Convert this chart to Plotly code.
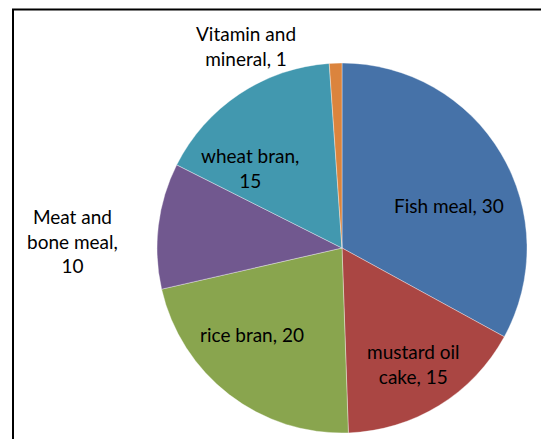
import plotly.graph_objects as go

W, H = 549, 439
OFF = 8  # page body margin offset in the browser

categories = ["Fish meal", "mustard oil cake", "rice bran", "Meat and bone meal", "wheat bran", "Vitamin and mineral"]
values = [30, 15, 20, 10, 15, 1]
colors = ["#4672A8", "#AA4643", "#89A54E", "#71588F", "#4298AF", "#DB843D"]
# how each data label wraps, and where it sits (pixel centre of the label block)
label_lines = [
    ["Fish meal, {v}"],
    ["mustard oil", "cake, {v}"],
    ["rice bran, {v}"],
    ["Meat and", "bone meal,", "{v}"],
    ["wheat bran,", "{v}"],
    ["Vitamin and", "mineral, {v}"],
]
label_pos = [(449, 205), (413, 364), (252, 334), (72, 241), (250, 168), (246, 46)]


def fx(px):
    return (px - OFF) / W


def fy(py):
    return 1 - (py - OFF) / H


fig = go.Figure(go.Pie(
    labels=categories,
    values=values,
    sort=False,
    direction="clockwise",
    rotation=0,
    textinfo="none",
    hoverinfo="label+value",
    marker=dict(colors=colors, line=dict(color="rgba(255,255,255,0.6)", width=0.6)),
    domain=dict(x=[fx(157), fx(527)], y=[fy(433), fy(63)]),
    showlegend=False,
))

annotations = []
for lines, v, (px, py) in zip(label_lines, values, label_pos):
    text = "<br>".join(l.format(v=v) for l in lines)
    annotations.append(dict(
        x=fx(px), y=fy(py), xref="paper", yref="paper",
        text=text, showarrow=False, align="center",
        xanchor="center", yanchor="middle",
        font=dict(family="Lato, 'Open Sans', sans-serif", size=19, color="#000000"),
    ))

fig.update_layout(
    width=W, height=H,
    margin=dict(l=0, r=0, t=0, b=0),
    paper_bgcolor="white",
    plot_bgcolor="white",
    annotations=annotations,
    shapes=[dict(type="rect", xref="paper", yref="paper",
                 x0=fx(13), x1=fx(543), y0=-0.2, y1=fy(9.5),
                 line=dict(color="black", width=2))],
)

fig.write_html("out.html")
